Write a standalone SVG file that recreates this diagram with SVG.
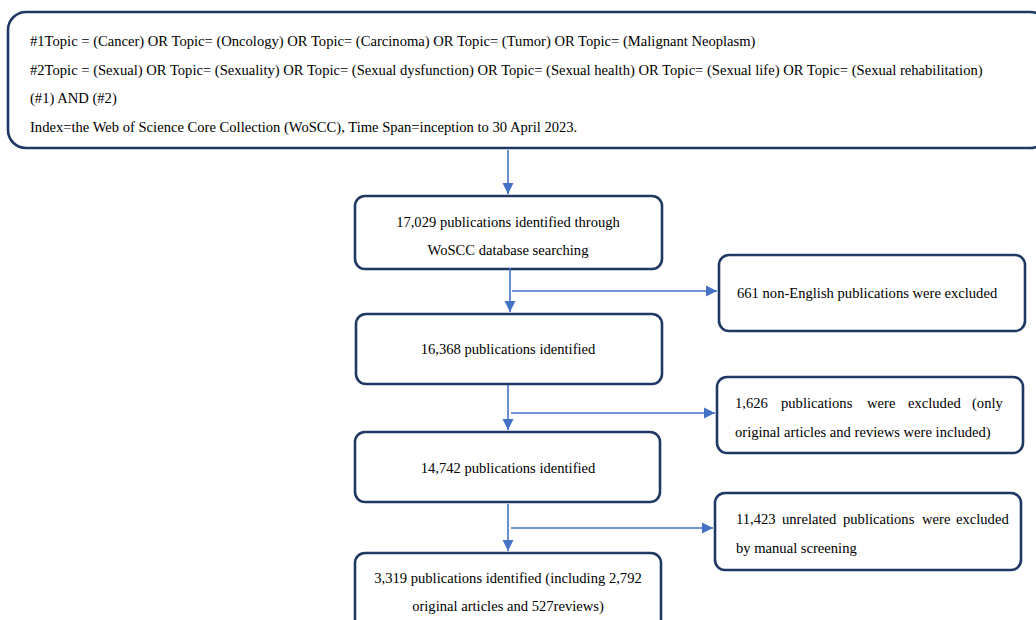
<svg xmlns="http://www.w3.org/2000/svg" width="1036" height="620" viewBox="0 0 1036 620">
<defs>
<marker id="ah" markerWidth="12" markerHeight="12" refX="11" refY="6" orient="auto" markerUnits="userSpaceOnUse">
<path d="M0,0.5 L11,6 L0,11.5 Z" fill="#4472C4"/>
</marker>
</defs>
<style>
.box{fill:#fff;stroke:#1F3864;stroke-width:2.6}
text{font-family:'Liberation Serif','Times New Roman','DejaVu Serif',serif;font-size:14.6px;fill:#000}
.c{text-anchor:middle}
.ln{stroke:#4472C4;stroke-width:1.6;fill:none}
</style>
<rect width="1036" height="620" fill="#fff"/>
<g id="search">
<rect class="box" x="8" y="12" width="1040" height="136" rx="18"/>
<text x="30" y="46">#1Topic = (Cancer) OR Topic= (Oncology) OR Topic= (Carcinoma) OR Topic= (Tumor) OR Topic= (Malignant Neoplasm)</text>
<text x="30" y="75">#2Topic = (Sexual) OR Topic= (Sexuality) OR Topic= (Sexual dysfunction) OR Topic= (Sexual health) OR Topic= (Sexual life) OR Topic= (Sexual rehabilitation)</text>
<text x="30" y="103">(#1) AND (#2)</text>
<text x="30" y="132">Index=the Web of Science Core Collection (WoSCC), Time Span=inception to 30 April 2023.</text>
</g>
<g id="identified">
<rect class="box" x="355" y="196" width="307" height="73" rx="10"/>
<text class="c" x="508" y="227">17,029 publications identified through</text>
<text class="c" x="508" y="255">WoSCC database searching</text>
</g>
<g id="excl-language">
<rect class="box" x="719" y="255" width="306" height="76" rx="10"/>
<text x="737" y="298">661 non-English publications were excluded</text>
</g>
<g id="after-language">
<rect class="box" x="356" y="314" width="306" height="70" rx="10"/>
<text class="c" x="508" y="354">16,368 publications identified</text>
</g>
<g id="excl-type">
<rect class="box" x="717" y="377" width="306" height="76" rx="10"/>
<text y="408"><tspan x="735">1,626</tspan> <tspan x="781">publications</tspan> <tspan x="867">were</tspan> <tspan x="908">excluded</tspan> <tspan x="972">(only</tspan></text>
<text x="735" y="437">original articles and reviews were included)</text>
</g>
<g id="after-type">
<rect class="box" x="355" y="432" width="305" height="70" rx="10"/>
<text class="c" x="508" y="473">14,742 publications identified</text>
</g>
<g id="excl-manual">
<rect class="box" x="715" y="493" width="306" height="77" rx="10"/>
<text y="524"><tspan x="736">11,423</tspan> <tspan x="782">unrelated</tspan> <tspan x="843">publications</tspan> <tspan x="922">were</tspan> <tspan x="956">excluded</tspan></text>
<text x="736" y="553">by manual screening</text>
</g>
<g id="final">
<rect class="box" x="355" y="553" width="306" height="80" rx="10"/>
<text class="c" x="508" y="583">3,319 publications identified (including 2,792</text>
<text class="c" x="508" y="611">original articles and 527reviews)</text>
</g>
<g id="connectors">
<line class="ln" x1="508" y1="150" x2="508" y2="194" marker-end="url(#ah)"/>
<line class="ln" x1="510" y1="268" x2="510" y2="312" marker-end="url(#ah)"/>
<line class="ln" x1="512" y1="291" x2="717" y2="291" marker-end="url(#ah)"/>
<line class="ln" x1="508" y1="385" x2="508" y2="430" marker-end="url(#ah)"/>
<line class="ln" x1="511" y1="413" x2="715" y2="413" marker-end="url(#ah)"/>
<line class="ln" x1="508" y1="504" x2="508" y2="551" marker-end="url(#ah)"/>
<line class="ln" x1="511" y1="528" x2="713" y2="528" marker-end="url(#ah)"/>
</g>
</svg>
